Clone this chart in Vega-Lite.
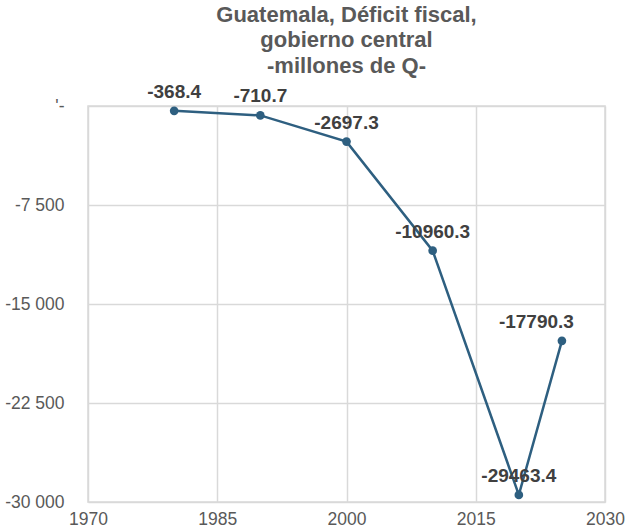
{
  "$schema": "https://vega.github.io/schema/vega-lite/v6.json",
  "autosize": {"type": "none"},
  "width": 517,
  "height": 396,
  "padding": {"left": 88, "top": 106, "right": 23, "bottom": 30},
  "background": "white",
  "title": {
    "text": ["Guatemala, Déficit fiscal,", "gobierno central", "-millones de Q-"],
    "font": "Liberation Sans",
    "fontSize": 22,
    "fontWeight": "bold",
    "color": "#595959",
    "lineHeight": 25.5,
    "anchor": "middle",
    "frame": "group",
    "offset": 5
  },
  "config": {
    "locale": {"number": {"decimal": ".", "thousands": " ", "grouping": [3], "currency": ["", ""], "minus": "-"}},
    "view": {"stroke": "#d9d9d9", "strokeWidth": 1.5},
    "axis": {
      "labelFont": "Liberation Sans",
      "labelFontSize": 17.5,
      "labelColor": "#595959",
      "gridColor": "#d9d9d9",
      "gridWidth": 1.5,
      "ticks": false,
      "domain": false,
      "title": null
    }
  },
  "data": {
    "values": [
      {"year": 1980, "value": -368.4},
      {"year": 1990, "value": -710.7},
      {"year": 2000, "value": -2697.3},
      {"year": 2010, "value": -10960.3},
      {"year": 2020, "value": -29463.4},
      {"year": 2025, "value": -17790.3}
    ]
  },
  "encoding": {
    "x": {
      "field": "year",
      "type": "quantitative",
      "scale": {"domain": [1970, 2030], "nice": false, "zero": false},
      "axis": {
        "values": [1970, 1985, 2000, 2015, 2030],
        "format": "d",
        "labelPadding": 8,
        "labelFlush": false,
        "labelOverlap": false,
        "labelBound": false
      }
    },
    "y": {
      "field": "value",
      "type": "quantitative",
      "scale": {"domain": [-30000, 0], "nice": false},
      "axis": {
        "values": [-30000, -22500, -15000, -7500, 0],
        "labelExpr": "datum.value == 0 ? \"'-\" : format(datum.value, ',')",
        "labelPadding": 24,
        "labelOverlap": false,
        "labelBound": false,
        "labelFlush": false
      }
    }
  },
  "layer": [
    {"mark": {"type": "line", "color": "#2e5f80", "strokeWidth": 2.5}},
    {"mark": {"type": "point", "filled": true, "color": "#2e5f80", "opacity": 1, "size": 75}},
    {
      "transform": [{"filter": "datum.year < 2025"}],
      "mark": {"type": "text", "font": "Liberation Sans", "fontSize": 19, "fontWeight": "bold", "color": "#404040", "dy": -19},
      "encoding": {"text": {"field": "value", "type": "quantitative", "format": ".1f"}}
    },
    {
      "transform": [{"filter": "datum.year == 2025"}],
      "mark": {"type": "text", "font": "Liberation Sans", "fontSize": 19, "fontWeight": "bold", "color": "#404040", "dy": -19, "align": "right", "dx": 12},
      "encoding": {"text": {"field": "value", "type": "quantitative", "format": ".1f"}}
    }
  ]
}
